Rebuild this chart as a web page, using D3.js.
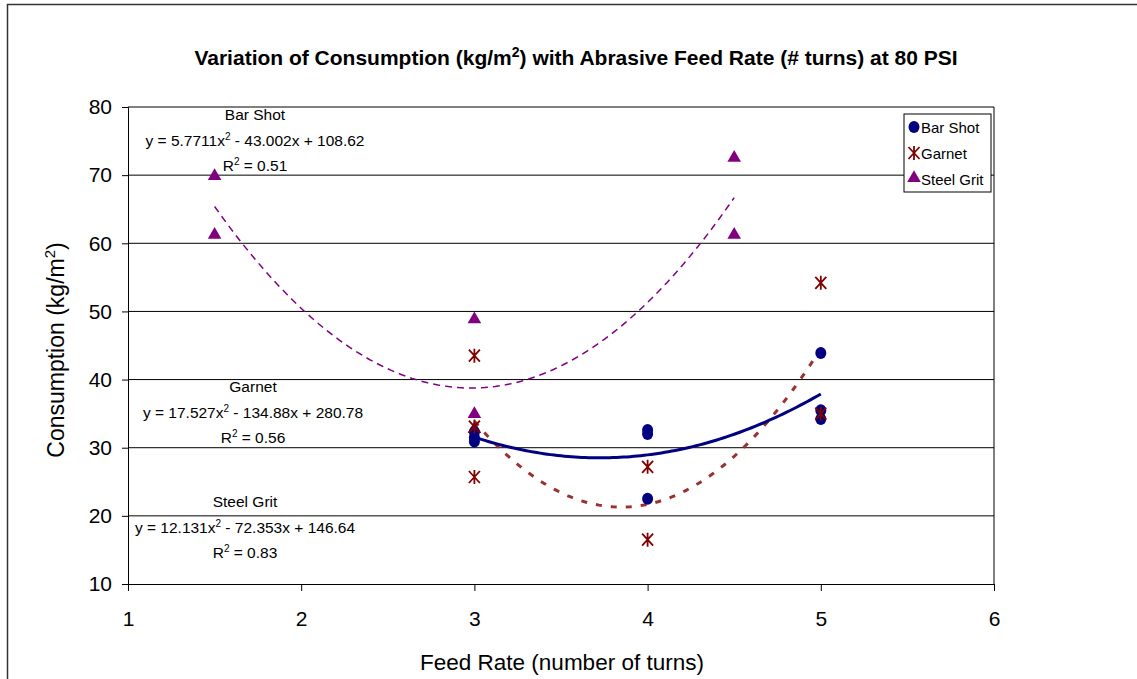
<!DOCTYPE html>
<html>
<head>
<meta charset="utf-8">
<script src="https://cdn.jsdelivr.net/npm/d3@7"></script>
<style>
  body { margin: 0; background: #fff; }
  text { font-family: "Liberation Sans", Arial, sans-serif; fill: #000; }
</style>
</head>
<body>
<div id="canvas"></div>
<script>
// data
const barShotX = [3, 3, 3, 4, 4, 4, 5, 5, 5];
const barShotY = [30.9, 31.5, 32.3, 32.6, 32.0, 22.5, 43.9, 35.5, 34.2];
const garnetX = [3, 3, 3, 4, 4, 5, 5];
const garnetY = [43.5, 33.1, 25.7, 27.2, 16.5, 54.2, 35.0];
const steelX = [1.5, 1.5, 3, 3, 3, 4.5, 4.5];
const steelY = [69.7, 61.1, 48.7, 34.8, 32.6, 72.4, 61.1];

// trendline coefficients shown on the chart (a, b, c)
const barShotFit = [5.7711, -43.002, 108.62];
const garnetFit = [17.527, -134.88, 280.78];
const steelFit = [12.131, -72.353, 146.64];

const xTicks = [1, 2, 3, 4, 5, 6];
const yTicks = [10, 20, 30, 40, 50, 60, 70, 80];

const width = 1137, height = 679;
const margin = { top: 107, left: 128, bottom: 95, right: 143 };
const iwidth = width - margin.left - margin.right;
const iheight = height - margin.top - margin.bottom;

const svg = d3.select("#canvas").append("svg")
  .attr("width", width).attr("height", height);

// outer frame
svg.append("path")
  .attr("d", `M7.5,${height} V4.5 H${width}`)
  .attr("fill", "none").attr("stroke", "#333").attr("stroke-width", 1.5);

const g = svg.append("g").attr("transform", `translate(${margin.left},${margin.top})`);

const x = d3.scaleLinear().domain([1, 6]).range([0, iwidth]);
const y = d3.scaleLinear().domain([10, 80]).range([iheight, 0]);

// gridlines
g.selectAll(".grid").data(yTicks.slice(1)).enter().append("line")
  .attr("x1", 0).attr("x2", iwidth)
  .attr("y1", d => y(d)).attr("y2", d => y(d))
  .attr("stroke", "#000").attr("stroke-width", 1);

// right border
g.append("line").attr("x1", iwidth).attr("x2", iwidth)
  .attr("y1", 0).attr("y2", iheight).attr("stroke", "#000");

const xAxis = g.append("g").attr("transform", `translate(0,${iheight})`)
  .call(d3.axisBottom(x).tickValues(xTicks).tickFormat(d3.format("d")).tickSize(7).tickPadding(20));
const yAxis = g.append("g")
  .call(d3.axisLeft(y).tickValues(yTicks).tickSize(6).tickPadding(10));
[xAxis, yAxis].forEach(a => {
  a.select(".domain").attr("stroke", "#000");
  a.selectAll(".tick line").attr("stroke", "#000");
  a.selectAll("text").style("font-size", "21px").style("font-family", '"Liberation Sans", Arial, sans-serif');
});

// trendlines
const quad = (c, t) => c[0] * t * t + c[1] * t + c[2];
function trend(coef, x0, x1, color, w, dash) {
  const pts = d3.range(0, 101).map(i => x0 + (x1 - x0) * i / 100);
  g.append("path")
    .datum(pts)
    .attr("d", d3.line().x(t => x(t)).y(t => y(quad(coef, t))))
    .attr("fill", "none").attr("stroke", color).attr("stroke-width", w)
    .attr("stroke-dasharray", dash);
}
trend(steelFit, d3.min(steelX), d3.max(steelX), "#800080", 1.5, "7,5");
trend(garnetFit, d3.min(garnetX), d3.max(garnetX), "#993333", 3, "6,9");
trend(barShotFit, d3.min(barShotX), d3.max(barShotX), "#000080", 3, null);

// markers
const tri = d3.symbol().type(d3.symbolTriangle).size(80);
const blue = "#000080", red = "#800000", purple = "#800080";

function drawCircle(sel) { sel.append("ellipse").attr("rx", 5.5).attr("ry", 6).attr("fill", blue); }
function drawStar(sel) {
  sel.append("path").attr("d", "M-5.5,-6L5.5,6M-5.5,6L5.5,-6M0,-7V7")
    .attr("stroke", red).attr("stroke-width", 1.8).attr("fill", "none");
}
function drawTri(sel) { sel.append("path").attr("d", tri).attr("fill", purple).attr("transform", "translate(0,-1)"); }

g.selectAll(".sg").data(steelX.map((d, i) => [d, steelY[i]])).enter().append("g")
  .attr("transform", d => `translate(${x(d[0])},${y(d[1])})`).call(drawTri);
g.selectAll(".bs").data(barShotX.map((d, i) => [d, barShotY[i]])).enter().append("g")
  .attr("transform", d => `translate(${x(d[0])},${y(d[1])})`).call(drawCircle);
g.selectAll(".gn").data(garnetX.map((d, i) => [d, garnetY[i]])).enter().append("g")
  .attr("transform", d => `translate(${x(d[0])},${y(d[1])})`).call(drawStar);

// title
const title = svg.append("text").attr("x", 576).attr("y", 65).attr("text-anchor", "middle")
  .style("font-weight", "bold").style("font-size", "21px");
title.append("tspan").text("Variation of Consumption (kg/m");
title.append("tspan").attr("dy", -8).style("font-size", "14px").text("2");
title.append("tspan").attr("dy", 8).text(") with Abrasive Feed Rate (# turns) at 80 PSI");

// axis labels
svg.append("text").attr("x", 562).attr("y", 670).attr("text-anchor", "middle")
  .style("font-size", "22.5px").text("Feed Rate (number of turns)");
const yl = svg.append("text").attr("transform", "translate(64,350) rotate(-90)")
  .attr("text-anchor", "middle").style("font-size", "23px");
yl.append("tspan").text("Consumption (kg/m");
yl.append("tspan").attr("dy", -9).style("font-size", "15px").text("2");
yl.append("tspan").attr("dy", 9).text(")");

// trendline equations
const eqNames = ["Bar Shot", "Garnet", "Steel Grit"];
const eqCoefs = [barShotFit, garnetFit, steelFit];
const eqR2 = ["0.51", "0.56", "0.83"];
const eqPos = [[255, 120], [253, 392], [245, 507]];
eqNames.forEach((n, i) => {
  const [cx, cy] = eqPos[i];
  const c = eqCoefs[i];
  const eg = svg.append("g");
  eg.append("text").attr("x", cx).attr("y", cy).attr("text-anchor", "middle").style("font-size", "15.5px").text(n);
  const t = eg.append("text").attr("x", cx).attr("y", cy + 26).attr("text-anchor", "middle").style("font-size", "15.5px");
  t.append("tspan").text(`y = ${c[0]}x`);
  t.append("tspan").attr("dy", -6).style("font-size", "10px").text("2");
  t.append("tspan").attr("dy", 6).text(` - ${(-c[1])}x + ${c[2]}`);
  const r = eg.append("text").attr("x", cx).attr("y", cy + 51).attr("text-anchor", "middle").style("font-size", "15.5px");
  r.append("tspan").text("R");
  r.append("tspan").attr("dy", -6).style("font-size", "10px").text("2");
  r.append("tspan").attr("dy", 6).text(` = ${eqR2[i]}`);
});

// legend
const lg = svg.append("g").attr("transform", "translate(904,114)");
lg.append("rect").attr("width", 87).attr("height", 78).attr("fill", "#fff").attr("stroke", "#000");
const legendItems = [drawCircle, drawStar, drawTri];
eqNames.forEach((n, i) => {
  const row = lg.append("g").attr("transform", `translate(10,${13 + i * 26})`);
  row.call(legendItems[i]);
  row.append("text").attr("x", 7).attr("y", 5.5).style("font-size", "15px").text(n);
});
</script>
</body>
</html>
